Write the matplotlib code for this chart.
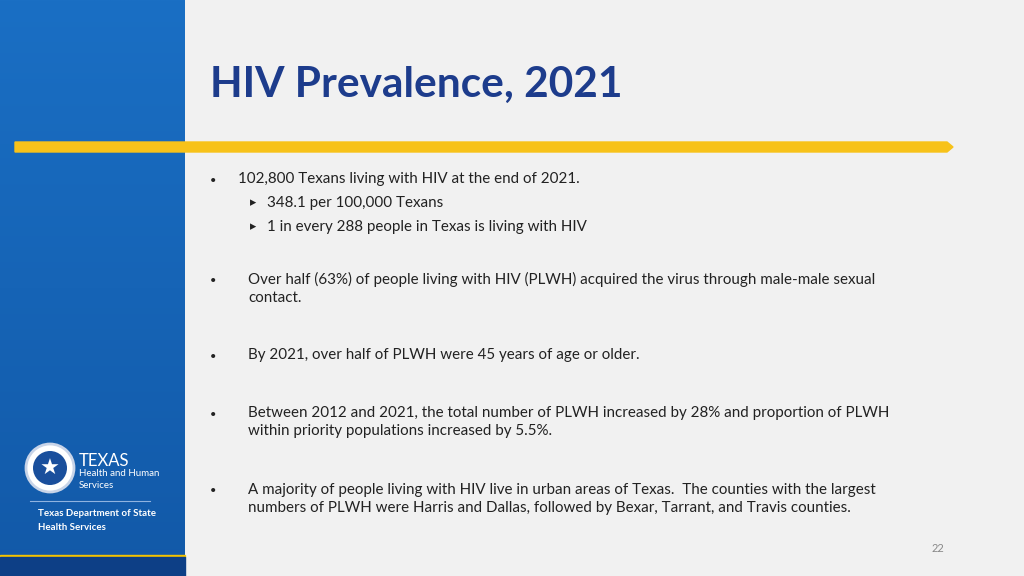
import numpy as np
import matplotlib.pyplot as plt
from matplotlib.patches import Rectangle, Polygon, Circle

plt.rcParams["font.family"] = "Lato"

TITLE = "HIV Prevalence, 2021"
BULLETS = [
    ("102,800 Texans living with HIV at the end of 2021.", 180),
    ("Over half (63%) of people living with HIV (PLWH) acquired the virus through male-male sexual\ncontact.", 280),
    ("By 2021, over half of PLWH were 45 years of age or older.", 356),
    ("Between 2012 and 2021, the total number of PLWH increased by 28% and proportion of PLWH\nwithin priority populations increased by 5.5%.", 414),
    ("A majority of people living with HIV live in urban areas of Texas.  The counties with the largest\nnumbers of PLWH were Harris and Dallas, followed by Bexar, Tarrant, and Travis counties.", 491),
]
SUB_BULLETS = [("348.1 per 100,000 Texans", 203), ("1 in every 288 people in Texas is living with HIV", 227)]
PAGE = "22"

fig = plt.figure(figsize=(10.24, 5.76), dpi=100)
ax = fig.add_axes([0, 0, 1, 1])
ax.set_xlim(0, 1024)
ax.set_ylim(576, 0)
ax.axis("off")
ax.add_patch(Rectangle((0, 0), 1024, 576, color="#f1f1f1", zorder=0))

# left blue panel with gradient
grad = np.linspace(0, 1, 256).reshape(-1, 1)
ax.imshow(grad, extent=(0, 185, 576, 0), cmap=plt.matplotlib.colors.LinearSegmentedColormap.from_list(
    "b", ["#1a6fc4", "#1259a8"]), aspect="auto", zorder=1)
ax.add_patch(Rectangle((0, 555), 185, 2, color="#f5c400", zorder=2))
ax.add_patch(Rectangle((0, 557), 185, 19, color="#0d3f86", zorder=2))

# logo
ax.add_patch(Circle((50, 468), 24, facecolor="white", edgecolor="#c8d4e8", lw=2, zorder=3))
ax.add_patch(Circle((50, 468), 17, facecolor="#1a4f9c", zorder=3))
ax.text(50, 469, "\u2605", color="white", fontsize=16, ha="center", va="center", zorder=4,
        family="DejaVu Sans")
ax.text(79, 461, "TEXAS", color="white", fontsize=12, va="center", zorder=4)
ax.text(79, 474, "Health and Human", color="white", fontsize=7, va="center", zorder=4)
ax.text(79, 485, "Services", color="white", fontsize=7, va="center", zorder=4)
ax.plot([30, 150], [501, 501], color="#8fb3e0", lw=0.8, zorder=4)
ax.text(38, 513, "Texas Department of State", color="white", fontsize=7, va="center", weight="bold", zorder=4)
ax.text(38, 527, "Health Services", color="white", fontsize=7, va="center", weight="bold", zorder=4)

# title and yellow bar
ax.text(210, 85, TITLE, color="#1d3c8c", fontsize=30.5, weight="bold", va="center", zorder=3)
ax.add_patch(Polygon([(15, 142), (947, 142), (953, 147), (947, 152), (15, 152)],
                     color="#f7c21a", zorder=3))

for text, y in BULLETS:
    ax.text(210, y, "\u2022", fontsize=8, color="#222222", va="center", zorder=3)
    x = 238 if y == 180 else 248
    ax.text(x, y - 8, text, fontsize=10.9, color="#222222", va="top", linespacing=1.4, zorder=3)
for text, y in SUB_BULLETS:
    ax.text(250, y, "\u25B8", fontsize=9, color="#222222", va="center", zorder=3, family="DejaVu Sans")
    ax.text(267, y, text, fontsize=10.9, color="#222222", va="center", zorder=3)

ax.text(938, 549, PAGE, fontsize=8, color="#888888", ha="center", va="center", zorder=3)

fig.savefig("out.png", dpi=100)
